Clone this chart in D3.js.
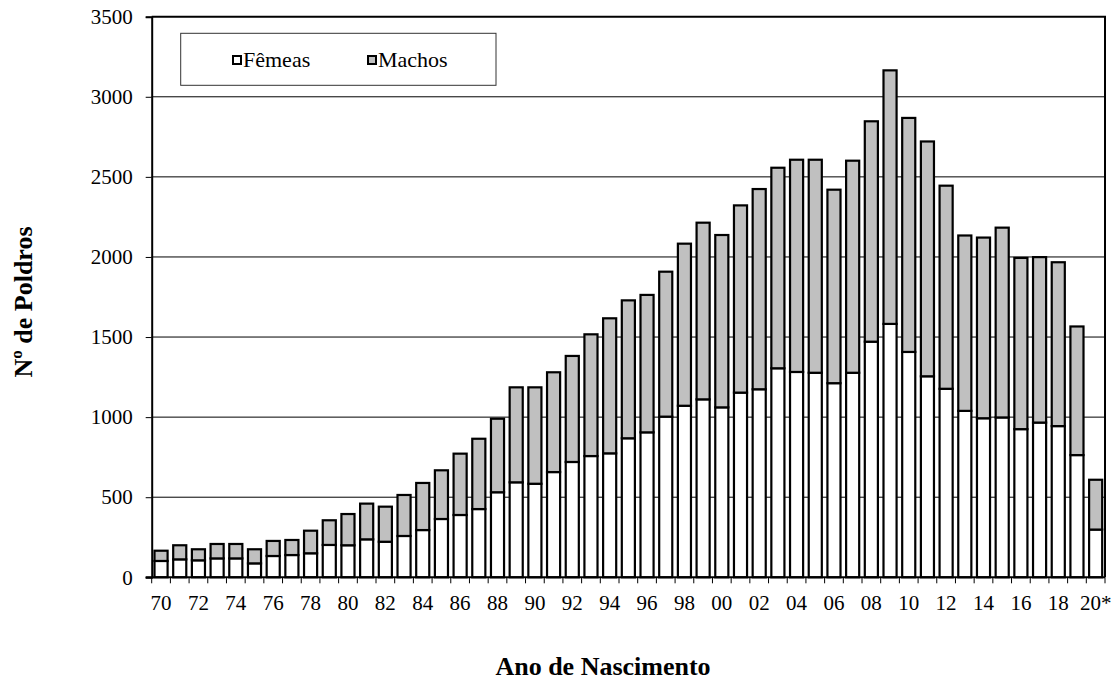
<!DOCTYPE html>
<html>
<head>
<meta charset="utf-8">
<script src="https://cdn.jsdelivr.net/npm/d3@7"></script>
<style>
  html, body { margin: 0; padding: 0; background: #fff; }
  svg { display: block; }
  svg text { font-family: "Liberation Serif", "Times New Roman", serif !important; fill: #000; }
</style>
</head>
<body>
<svg id="chart" width="1115" height="682"></svg>
<script>
// ---- data ----
const categories = ["1970","1971","1972","1973","1974","1975","1976","1977","1978","1979",
  "1980","1981","1982","1983","1984","1985","1986","1987","1988","1989",
  "1990","1991","1992","1993","1994","1995","1996","1997","1998","1999",
  "2000","2001","2002","2003","2004","2005","2006","2007","2008","2009",
  "2010","2011","2012","2013","2014","2015","2016","2017","2018","2019","2020"];
const tickLabels = ["70","","72","","74","","76","","78","",
  "80","","82","","84","","86","","88","",
  "90","","92","","94","","96","","98","",
  "00","","02","","04","","06","","08","",
  "10","","12","","14","","16","","18","","20*"];
const femeas = [102,112,106,118,118,87,133,139,150,202,
  200,237,222,258,295,364,389,426,531,593,
  584,657,720,757,774,868,905,1003,1071,1111,
  1061,1153,1174,1305,1282,1277,1212,1277,1471,1582,
  1407,1255,1177,1039,993,998,925,966,944,763,298];
const machos = [64,88,69,90,90,88,94,94,141,154,
  195,223,219,256,294,304,383,439,459,593,
  602,623,662,760,843,861,858,905,1012,1103,
  1076,1169,1250,1252,1325,1330,1208,1324,1376,1583,
  1461,1466,1268,1095,1128,1185,1069,1033,1023,803,311];
const yTicks = [0,500,1000,1500,2000,2500,3000,3500];
const seriesNames = ["Fêmeas","Machos"];
const seriesColors = ["#ffffff","#c0c0c0"];
const yTitle = "Nº de Poldros";
const xTitle = "Ano de Nascimento";

// ---- layout ----
const FONT = "'Liberation Serif', 'Times New Roman', serif";
const svg = d3.select("#chart");
const L = 151.7, R = 1105, T = 16.7, B = 577.3;

const x = d3.scaleBand().domain(categories).range([L, R]).paddingInner(0.3).paddingOuter(0.15);
const y = d3.scaleLinear().domain([0, 3500]).range([B, T]);

const rows = categories.map((c, i) => ({cat: c, f: femeas[i], m: machos[i]}));
const layers = d3.stack().keys(["f","m"])(rows);

// gridlines
svg.append("g").selectAll("line").data(yTicks.filter(v => v > 0 && v < 3500)).join("line")
  .attr("x1", L).attr("x2", R).attr("y1", d => y(d)).attr("y2", d => y(d))
  .attr("stroke", "#000").attr("stroke-width", 1);

// bars
svg.append("g").selectAll("g").data(layers).join("g")
  .attr("fill", (d, i) => seriesColors[i])
  .selectAll("rect").data(d => d).join("rect")
  .attr("x", d => x(d.data.cat))
  .attr("width", x.bandwidth())
  .attr("y", d => y(d[1]))
  .attr("height", d => y(d[0]) - y(d[1]))
  .attr("stroke", "#000").attr("stroke-width", 2.2);

// frame (top, right)
svg.append("path")
  .attr("d", `M${L},${T}H${R}V${B}`)
  .attr("fill", "none").attr("stroke", "#000").attr("stroke-width", 2);

// y axis
const yAxis = svg.append("g").attr("transform", `translate(${L},0)`)
  .call(d3.axisLeft(y).tickValues(yTicks).tickSize(6).tickPadding(13).tickFormat(d3.format("d")));
yAxis.attr("font-family", FONT).attr("font-size", 21);
yAxis.select(".domain").attr("stroke", "#000").attr("stroke-width", 2);
yAxis.selectAll(".tick line").attr("stroke", "#000").attr("stroke-width", 1);
yAxis.selectAll(".tick text").attr("font-family", FONT).attr("font-size", 21).attr("fill", "#000");

// x axis line
svg.append("line").attr("x1", L - 6).attr("x2", R).attr("y1", B).attr("y2", B)
  .attr("stroke", "#000").attr("stroke-width", 2);
// x ticks at category boundaries
const step = x.step();
const bounds = categories.map(c => x(c) + x.bandwidth() / 2 - step / 2).concat([R]);
svg.append("g").selectAll("line").data(bounds).join("line")
  .attr("x1", d => d).attr("x2", d => d).attr("y1", B).attr("y2", B + 6)
  .attr("stroke", "#000").attr("stroke-width", 1);
// x labels
svg.append("g").selectAll("text").data(categories.map((c, i) => ({c, t: tickLabels[i]})).filter(d => d.t !== ""))
  .join("text")
  .attr("x", d => x(d.c) + x.bandwidth() / 2)
  .attr("y", 609.5)
  .attr("text-anchor", "middle")
  .attr("font-family", FONT).attr("font-size", 21)
  .text(d => d.t);

// titles
svg.append("text").attr("x", 603).attr("y", 675).attr("text-anchor", "middle")
  .attr("font-family", FONT).attr("font-size", 26).attr("font-weight", "bold").text(xTitle);
svg.append("text").attr("transform", "translate(31.5,302) rotate(-90)").attr("text-anchor", "middle")
  .attr("font-family", FONT).attr("font-size", 26).attr("font-weight", "bold").text(yTitle);

// legend
const lg = svg.append("g");
lg.append("rect").attr("x", 180.7).attr("y", 33.3).attr("width", 315.3).attr("height", 52)
  .attr("fill", "#fff").attr("stroke", "#333").attr("stroke-width", 1);
const legendX = [233, 368];
seriesNames.forEach((n, i) => {
  lg.append("rect").attr("x", legendX[i]).attr("y", 56).attr("width", 8).attr("height", 8)
    .attr("fill", seriesColors[i]).attr("stroke", "#000").attr("stroke-width", 2);
  lg.append("text").attr("x", legendX[i] + 10).attr("y", 66.7)
    .attr("font-family", FONT).attr("font-size", 22).text(n);
});
</script>
</body>
</html>
